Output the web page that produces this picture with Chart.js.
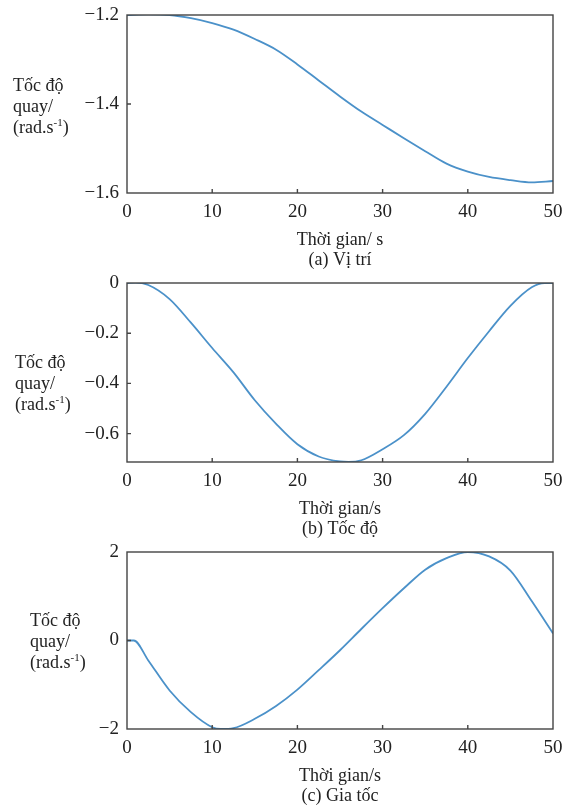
<!DOCTYPE html>
<html>
<head>
<meta charset="utf-8">
<script src="https://cdn.jsdelivr.net/npm/chart.js@4.4.0/dist/chart.umd.min.js"></script>
<style>
body { margin: 0; width: 573px; height: 807px; overflow: hidden; background: #fff; position: relative; font-family: "Liberation Serif", serif; }
canvas { position: absolute; left: 0; }
.ylab { position: absolute; font-size: 18px; line-height: 21px; color: #222; }
.ylab sup { font-size: 11px; line-height: 0; }
</style>
</head>
<body>
<canvas id="c1" width="573" height="272" style="top:0px"></canvas>
<canvas id="c2" width="573" height="273" style="top:268px"></canvas>
<canvas id="c3" width="573" height="271" style="top:537px"></canvas>
<div class="ylab" style="left:13px;top:75px">Tốc độ<br>quay/<br>(rad.s<sup>-1</sup>)</div>
<div class="ylab" style="left:15px;top:352px">Tốc độ<br>quay/<br>(rad.s<sup>-1</sup>)</div>
<div class="ylab" style="left:30px;top:610px">Tốc độ<br>quay/<br>(rad.s<sup>-1</sup>)</div>
<script>
// 時間軸の目盛り
const xTicks = [0, 10, 20, 30, 40, 50];

// (a) Vị trí
const tPos = [0, 2.5, 5, 7.5, 10, 12.5, 15, 17.5, 20, 22.5, 25, 27.5, 30, 32.5, 35, 37.5, 40, 42.5, 45, 47.5, 50];
const posVals = [-1.2, -1.1985, -1.2, -1.207, -1.218, -1.233, -1.254, -1.278, -1.311, -1.347, -1.383, -1.417, -1.447, -1.477, -1.506, -1.534, -1.552, -1.564, -1.571, -1.576, -1.573];
const posTicks = [-1.6, -1.4, -1.2];

// (b) Tốc độ
const tVel = [0, 1, 2.5, 5, 7.5, 10, 12.5, 15, 17.5, 20, 22.5, 25, 26, 27.5, 30, 32.5, 35, 37.5, 40, 42.5, 45, 47.5, 49, 50];
const velVals = [0, 0.002, -0.008, -0.064, -0.158, -0.259, -0.356, -0.467, -0.561, -0.642, -0.691, -0.711, -0.713, -0.706, -0.662, -0.606, -0.521, -0.413, -0.299, -0.192, -0.091, -0.017, 0, 0];
const velTicks = [-0.6, -0.4, -0.2, 0];

// (c) Gia tốc
const tAcc = [0, 0.8, 2.5, 5, 7.5, 10, 11, 12.5, 15, 17.5, 20, 22.5, 25, 27.5, 30, 32.5, 35, 37.5, 40, 42.5, 45, 47.5, 50];
const accVals = [0, 0, -0.45, -1.13, -1.62, -1.96, -2.0, -1.98, -1.77, -1.48, -1.11, -0.67, -0.22, 0.26, 0.73, 1.18, 1.6, 1.86, 2.0, 1.9, 1.58, 0.89, 0.16];
const accTicks = [-2, 0, 2];

// 枠線と内向きの目盛り線を描くプラグイン
const boxPlugin = {
    id: 'box',
    afterDraw(chart) {
        const ctx = chart.ctx;
        const a = chart.chartArea;
        const xs = chart.scales.x, ys = chart.scales.y;
        ctx.save();
        ctx.strokeStyle = '#444';
        ctx.lineWidth = 1.4;
        ctx.beginPath();
        xs.ticks.forEach(t => {
            const px = xs.getPixelForValue(t.value);
            if (px > a.left + 1 && px < a.right - 1) {
                ctx.moveTo(px, a.bottom);
                ctx.lineTo(px, a.bottom - 4);
            }
        });
        ys.ticks.forEach(t => {
            const py = ys.getPixelForValue(t.value);
            if (py > a.top + 1 && py < a.bottom - 1) {
                ctx.moveTo(a.left, py);
                ctx.lineTo(a.left + 4, py);
            }
        });
        ctx.stroke();
        ctx.strokeRect(a.left, a.top, a.right - a.left, a.bottom - a.top);
        ctx.restore();
    }
};

function makeChart(id, xs, ys, yMin, yMax, yTicks, titleLines) {
    return new Chart(document.getElementById(id), {
        type: 'line',
        data: {
            datasets: [{
                data: xs.map((x, i) => ({ x: x, y: ys[i] })),
                borderColor: '#4b91c9',
                borderWidth: 1.8,
                pointRadius: 0,
                cubicInterpolationMode: 'monotone',
                fill: false
            }]
        },
        options: {
            responsive: false,
            animation: false,
            layout: { padding: { top: 15, right: 20, bottom: 2, left: 0 } },
            plugins: { legend: { display: false }, tooltip: { enabled: false } },
            scales: {
                x: {
                    type: 'linear', min: 0, max: 50,
                    afterBuildTicks: s => { s.ticks = xTicks.map(v => ({ value: v })); },
                    afterFit: s => { s.height = 77; s.paddingLeft = 0; s.paddingRight = 0; },
                    grid: { display: false, drawTicks: false },
                    border: { display: false },
                    ticks: { padding: 8, color: '#222', font: { family: 'Liberation Serif', size: 19 } },
                    title: {
                        display: true, text: titleLines, color: '#222',
                        padding: { top: 7, bottom: 0 },
                        font: { family: 'Liberation Serif', size: 18, lineHeight: 1.11 }
                    }
                },
                y: {
                    type: 'linear', min: yMin, max: yMax,
                    afterBuildTicks: s => { s.ticks = yTicks.map(v => ({ value: v })); },
                    afterFit: s => { s.width = 127; s.paddingTop = 0; s.paddingBottom = 0; },
                    grid: { display: false, drawTicks: false },
                    border: { display: false },
                    ticks: {
                        padding: 8, color: '#222', font: { family: 'Liberation Serif', size: 19 },
                        callback: v => String(v).replace('-', '\u2212')
                    }
                }
            }
        },
        plugins: [boxPlugin]
    });
}

makeChart('c1', tPos, posVals, -1.6, -1.2, posTicks, ['Thời gian/ s', '(a) Vị trí']);
makeChart('c2', tVel, velVals, -0.713, 0, velTicks, ['Thời gian/s', '(b) Tốc độ']);
makeChart('c3', tAcc, accVals, -2, 2, accTicks, ['Thời gian/s', '(c) Gia tốc']);
</script>
</body>
</html>
